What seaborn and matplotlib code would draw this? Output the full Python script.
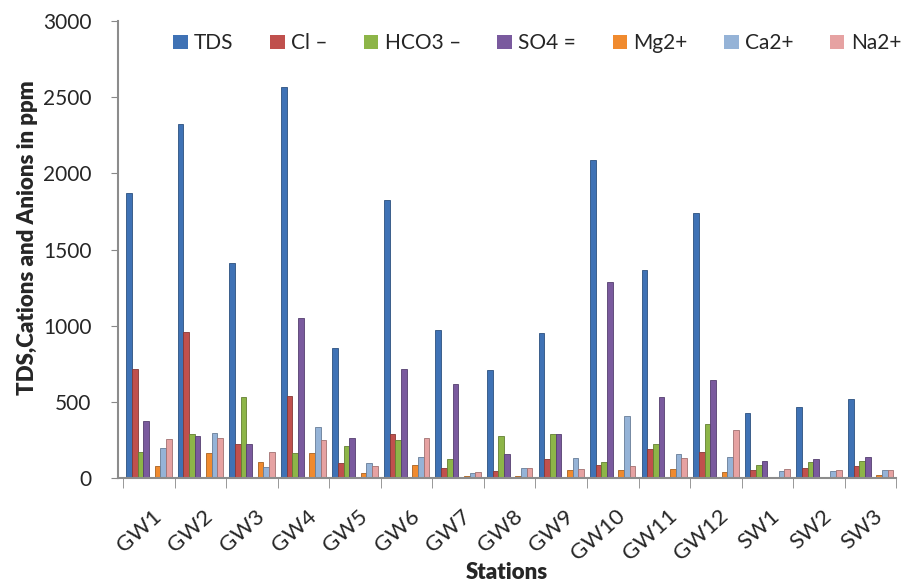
import numpy as np
import pandas as pd
import matplotlib
matplotlib.use("Agg")
import matplotlib.pyplot as plt
import matplotlib.transforms as mtransforms
import seaborn as sns
from matplotlib.patches import Patch

stations = ["GW1", "GW2", "GW3", "GW4", "GW5", "GW6", "GW7", "GW8", "GW9", "GW10",
            "GW11", "GW12", "SW1", "SW2", "SW3"]
tds  = [1870, 2325, 1410, 2565, 853, 1825, 969, 707, 954, 2090, 1367, 1740, 424, 467, 522]
cl   = [714, 958, 225, 537, 96, 290, 63, 48, 126, 85, 192, 168, 52, 67, 79]
hco3 = [170, 286, 532, 162, 211, 253, 124, 277, 288, 103, 221, 354, 85, 107, 113]
so4  = [373, 275, 225, 1052, 264, 718, 620, 157, 288, 1286, 532, 642, 113, 124, 140]
mg   = [80, 162, 103, 162, 31, 85, 13, 15, 52, 52, 57, 41, 8, 10, 18]
ca   = [198, 299, 74, 332, 96, 140, 35, 67, 133, 406, 155, 140, 46, 48, 52]
na   = [257, 264, 170, 249, 79, 264, 41, 67, 59, 79, 133, 314, 57, 52, 52]

series_names = ["TDS", "Cl \u2013", "HCO3 \u2013", "SO4 =", "Mg2+", "Ca2+", "Na2+"]
series_vals = [tds, cl, hco3, so4, mg, ca, na]
colors = ["#3F72B5", "#C0504D", "#8DB548", "#7A5A9E", "#F08A2E", "#95B3D7", "#E6A2A2"]

# an empty slot sits between SO4 and Mg2+ in the original chart
gap = " "
hue_order = series_names[:4] + [gap] + series_names[4:]

rows = []
for name, vals in zip(series_names, series_vals):
    for s, v in zip(stations, vals):
        rows.append({"Station": s, "Series": name, "Value": v})
for s in stations:
    rows.append({"Station": s, "Series": gap, "Value": np.nan})
df = pd.DataFrame(rows)

palette = dict(zip(series_names, colors))
palette[gap] = "#FFFFFF"

sns.set_style("white")
plt.rcParams["font.family"] = ["Lato", "DejaVu Sans"]

fig = plt.figure(figsize=(9.04, 5.83), dpi=100)
ax = fig.add_axes([0.1305, 0.180, 0.861, 0.784])

sns.barplot(data=df, x="Station", y="Value", hue="Series", order=stations,
            hue_order=hue_order, palette=palette, width=0.88, legend=False,
            errorbar=None, ax=ax, saturation=1)

for p in ax.patches:
    fc = p.get_facecolor()
    p.set_edgecolor((fc[0] * 0.7, fc[1] * 0.7, fc[2] * 0.7, 1))
    p.set_linewidth(0.6)

ax.set_ylim(0, 3000)
ax.set_xlim(-0.6, 14.5)
ax.set_yticks([0, 500, 1000, 1500, 2000, 2500, 3000])
ax.tick_params(axis="y", labelsize=15, length=5, color="#888888", left=True, pad=14)
ax.set_xticks(range(len(stations)))
ax.set_xticklabels(stations, rotation=42, ha="right", va="top",
                   rotation_mode="anchor", fontsize=16)
ax.tick_params(axis="x", length=0, pad=20)
offset = mtransforms.ScaledTranslation(3 / 100, 0, fig.dpi_scale_trans)
for lab in ax.get_xticklabels():
    lab.set_transform(lab.get_transform() + offset)
ax.set_xticks(np.arange(-0.5, len(stations), 1), minor=True)
ax.tick_params(axis="x", which="minor", length=7, color="#888888", bottom=True)

for side in ["top", "right"]:
    ax.spines[side].set_visible(False)
for side in ["left", "bottom"]:
    ax.spines[side].set_color("#8C8C8C")
    ax.spines[side].set_linewidth(1.5)

ax.set_ylabel("TDS,Cations and Anions in ppm", fontsize=16, fontweight="heavy")
ax.yaxis.set_label_coords(-0.1026, 0.525)
ax.set_xlabel("Stations", fontsize=16, fontweight="heavy")
ax.xaxis.set_label_coords(0.5, -0.183)

handles = [Patch(facecolor=c, edgecolor="none") for c in colors]
ax.legend(handles, series_names, loc="upper left", bbox_to_anchor=(0.055, 1.0),
          ncol=7, frameon=False, fontsize=15, handlelength=0.7, handleheight=0.7,
          handletextpad=0.3, columnspacing=1.75, borderaxespad=0.2)

fig.savefig("out.png", dpi=100)
